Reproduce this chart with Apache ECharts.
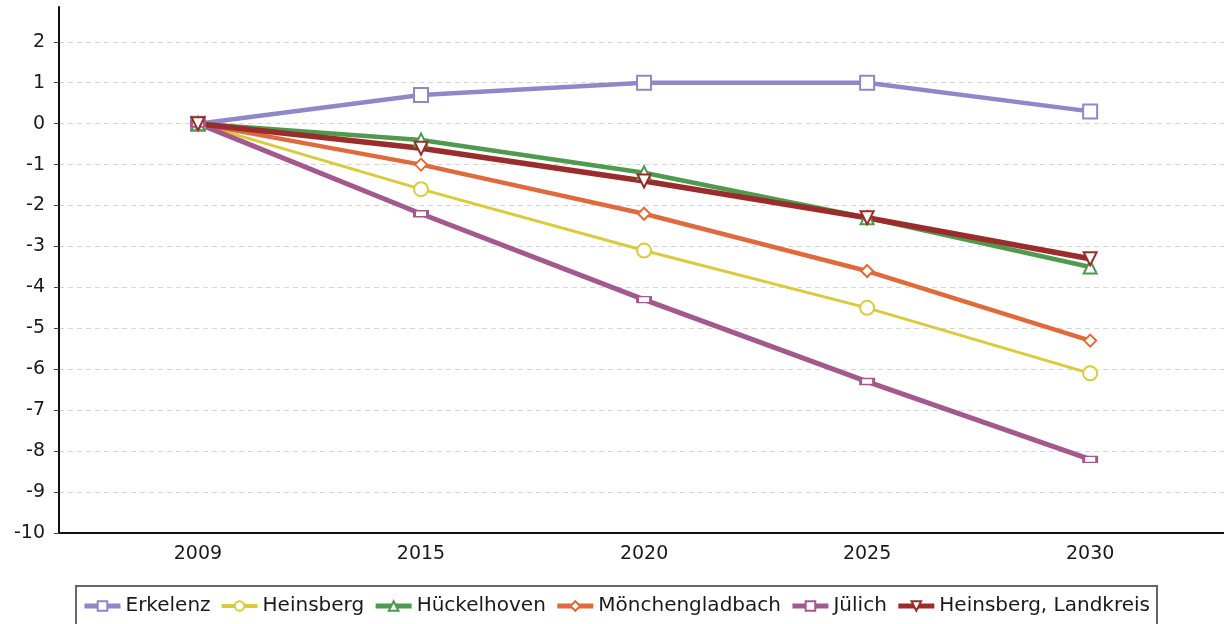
<!DOCTYPE html>
<html>
<head>
<meta charset="utf-8">
<script src="https://cdn.jsdelivr.net/npm/echarts@6/dist/echarts.min.js"></script>
<style>
html,body{margin:0;padding:0;background:#fff;}
#chart{width:1224px;height:624px;}
</style>
</head>
<body>
<div id="chart"></div>
<script>
const years = ['2009', '2015', '2020', '2025', '2030'];
const erkelenz = [0, 0.7, 1.0, 1.0, 0.3];
const heinsberg = [0, -1.6, -3.1, -4.5, -6.1];
const hueckelhoven = [0, -0.4, -1.2, -2.3, -3.5];
const moenchengladbach = [0, -1.0, -2.2, -3.6, -5.3];
const juelich = [0, -2.2, -4.3, -6.3, -8.2];
const landkreis = [0, -0.6, -1.4, -2.3, -3.3];
const yTicks = [-10, -9, -8, -7, -6, -5, -4, -3, -2, -1, 0, 1, 2];

const FONT = 'DejaVu Sans';
function pts(arr) { return arr.map((v, i) => [i, v]); }
function mk(name, data, color, symbol, size, width, rotate) {
  return {
    name: name,
    type: 'line',
    data: pts(data),
    symbol: symbol,
    symbolSize: size,
    symbolRotate: rotate || 0,
    showAllSymbol: true,
    lineStyle: { color: color, width: width },
    itemStyle: { color: '#ffffff', borderColor: color, borderWidth: 2 },
    emphasis: { disabled: true },
    animation: false
  };
}
function leg(name, color, width) {
  return { name: name, lineStyle: { color: color, width: width }, itemStyle: { color: '#ffffff', borderColor: color, borderWidth: 2 } };
}

const C = {
  erk: '#8f87c9', hei: '#d9cb3c', hue: '#4f9a4f', moe: '#e06a3b', jue: '#a3598d', lk: '#9b2c2c'
};

const chart = echarts.init(document.getElementById('chart'), null, { renderer: 'canvas' });
chart.setOption({
  backgroundColor: '#ffffff',
  animation: false,
  grid: { left: 59, right: 0, top: 7, bottom: 91, containLabel: false },
  xAxis: {
    type: 'value',
    min: -0.623,
    max: 4.6,
    axisLine: { onZero: false, lineStyle: { color: '#111', width: 2 } },
    axisTick: { show: false },
    splitLine: { show: false },
    axisLabel: {
      customValues: [0, 1, 2, 3, 4],
      formatter: v => years[Math.round(v)] || '',
      fontFamily: FONT, fontSize: 19, color: '#1a1a1a', margin: 12
    }
  },
  yAxis: {
    type: 'value',
    min: -10,
    max: 2.85,
    interval: 1,
    axisLine: { show: true, onZero: false, lineStyle: { color: '#111', width: 2 } },
    axisTick: { show: true, length: 5, lineStyle: { color: '#444', width: 1 } },
    splitLine: { show: true, showMaxLine: false, showMinLine: false, lineStyle: { color: '#d6d6d6', type: [5, 4], width: 1 } },
    axisLabel: {
      showMaxLabel: false,
      formatter: v => (yTicks.indexOf(v) >= 0 ? String(v) : ''),
      fontFamily: FONT, fontSize: 19, color: '#1a1a1a', margin: 14
    }
  },
  legend: {
    left: 76,
    top: 586,
    padding: [10, 7, 14, 6],
    borderColor: '#666',
    borderWidth: 2,
    itemWidth: 36,
    itemHeight: 12,
    itemGap: 9,
    itemTextGap: 6,
    textStyle: { fontFamily: FONT, fontSize: 20, color: '#1a1a1a' },
    data: [
      leg('Erkelenz', C.erk, 5),
      leg('Heinsberg', C.hei, 4),
      leg('Hückelhoven', C.hue, 5),
      leg('Mönchengladbach', C.moe, 5),
      leg('Jülich', C.jue, 5),
      leg('Heinsberg, Landkreis', C.lk, 5)
    ]
  },
  series: [
    mk('Erkelenz', erkelenz, C.erk, 'rect', 14, 4.5),
    mk('Heinsberg', heinsberg, C.hei, 'circle', 14, 3),
    mk('Hückelhoven', hueckelhoven, C.hue, 'triangle', 13, 4.5),
    mk('Mönchengladbach', moenchengladbach, C.moe, 'diamond', 12, 4.5),
    mk('Jülich', juelich, C.jue, 'rect', [13, 6], 5),
    mk('Heinsberg, Landkreis', landkreis, C.lk, 'triangle', 13, 5.5, 180)
  ]
});
</script>
</body>
</html>
